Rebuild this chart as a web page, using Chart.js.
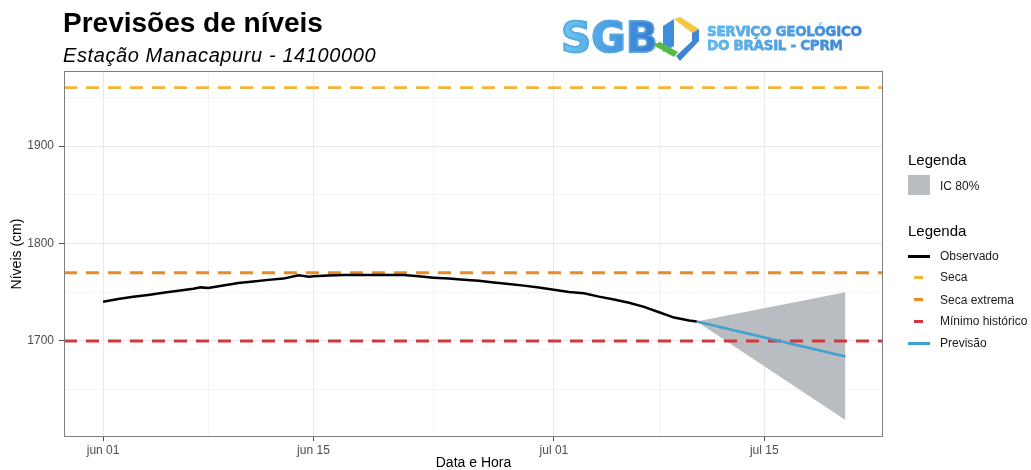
<!DOCTYPE html>
<html lang="pt-BR">
<head>
<meta charset="utf-8">
<title>Previsões de níveis</title>
<script src="https://cdn.jsdelivr.net/npm/chart.js@4.4.1/dist/chart.umd.min.js"></script>
<style>
  html, body { margin: 0; padding: 0; background: #fff; }
  #page { position: relative; width: 1031px; height: 470px; overflow: hidden; font-family: "Liberation Sans", Arial, sans-serif; color: #000; }
  #chart-box { position: absolute; left: 0; top: 0; width: 1031px; height: 470px; }
  .title { position: absolute; left: 63px; top: 9px; font-size: 28px; font-weight: bold; line-height: 28px; white-space: nowrap; }
  .subtitle { position: absolute; left: 63px; top: 45px; font-size: 20px; font-style: italic; line-height: 20px; letter-spacing: 0.6px; white-space: nowrap; }
  .sgb { position: absolute; left: 561px; top: 17px; font-family: "DejaVu Sans", sans-serif; font-weight: bold; font-size: 42px; line-height: 42px; letter-spacing: 0px;
         -webkit-text-stroke: 1.5px #55a8e4;
         background: linear-gradient(90deg, #6cc6ee 0%, #4a9fe2 50%, #3a78cc 100%); -webkit-background-clip: text; background-clip: text; color: transparent; }
  .hex { position: absolute; left: 653px; top: 16px; }
  .logo-text { position: absolute; left: 707px; top: 25px; font-family: "DejaVu Sans", sans-serif; font-size: 13.5px; font-weight: bold; line-height: 13.5px; white-space: nowrap; letter-spacing: -0.3px;
               -webkit-text-stroke: 0.4px #4f9fe2;
               background: linear-gradient(90deg, #62c0ee 0%, #4a98e0 60%, #3f7ccd 100%); -webkit-background-clip: text; background-clip: text; color: transparent; }
  .leg-title { position: absolute; left: 908px; font-size: 15px; line-height: 16px; color: #000; white-space: nowrap; }
  .leg-text { position: absolute; left: 940px; font-size: 12px; line-height: 14px; color: #1a1a1a; white-space: nowrap; }
  .leg-box { position: absolute; left: 908px; top: 175px; width: 22px; height: 20px; background: #b9bcc1; }
  .leg-line { position: absolute; height: 3px; }
</style>
</head>
<body>
<div id="page">
  <div id="chart-box"><canvas id="level-chart"></canvas></div>

  <div class="title">Previsões de níveis</div>
  <div class="subtitle">Estação Manacapuru - 14100000</div>

  <div class="sgb">SGB</div>
  <svg class="hex" width="48" height="46" viewBox="0 0 48 46">
    <polygon points="10,10 21,3 21,30 10,36" fill="#3d8fdc"/>
    <polygon points="21,3 27,1 46,13 39,17" fill="#f4c542"/>
    <polygon points="39,17 46,13 46,25 27,45 23,40 39,25" fill="#3f86d6"/>
    <polygon points="0,29 7,26 25,36 21,41" fill="#58b947"/>
  </svg>
  <div class="logo-text">SERVIÇO GEOLÓGICO<br>DO BRASIL - CPRM</div>

  <div class="leg-title" style="top:152px">Legenda</div>
  <div class="leg-box"></div>
  <div class="leg-text" style="top:179px">IC 80%</div>

  <div class="leg-title" style="top:223px">Legenda</div>
  <div class="leg-line" style="left:908px; width:22px; top:255px; background:#000;"></div>
  <div class="leg-text" style="top:249px">Observado</div>
  <div class="leg-line" style="left:914px; width:9px; top:276px; background:#f2b53b;"></div>
  <div class="leg-text" style="top:270px">Seca</div>
  <div class="leg-line" style="left:914px; width:9px; top:298px; background:#e8892a;"></div>
  <div class="leg-text" style="top:293px">Seca extrema</div>
  <div class="leg-line" style="left:914px; width:9px; top:320px; background:#d2373b;"></div>
  <div class="leg-text" style="top:314px">Mínimo histórico</div>
  <div class="leg-line" style="left:908px; width:22px; top:342px; background:#3fa2cf;"></div>
  <div class="leg-text" style="top:336px">Previsão</div>
</div>

<script>
// days counted from 1 June
const obsDays = [0, 1, 2, 3, 4, 5, 6, 6.5, 7, 8, 9, 10, 11, 12, 13, 13.7, 14, 15, 16, 18, 20,
  21, 22, 23, 24, 25, 26, 27, 28, 29, 30, 31, 32, 33, 34, 35, 36, 37, 38, 39, 39.5];
const obsLevels = [1740.3, 1743, 1745.3, 1747.3, 1749.6, 1751.5, 1753.5, 1755, 1754.3, 1757, 1759.5,
  1761, 1762.7, 1764, 1767.5, 1766, 1766.5, 1767.3, 1767.7, 1767.7, 1767.7,
  1766.3, 1765, 1764, 1762.8, 1761.8, 1760, 1758.5, 1756.8, 1754.8, 1752.5,
  1750.3, 1749, 1745.5, 1742.5, 1739.3, 1735, 1729.5, 1724, 1721, 1720];

const forecastDays = [39.5, 49.4];
const forecastLevels = [1720, 1684];
const ciUpperLevels = [1720, 1750];
const ciLowerLevels = [1720, 1619];

const secaLevel = 1960;
const secaExtremaLevel = 1770;
const minimoLevel = 1700;

const xRange = [-2.6, 51.9];
const yRange = [1601.5, 1977];
const xMajorDays = [0, 14, 30, 44];
const xTickLabels = ["jun 01", "jun 15", "jul 01", "jul 15"];
const xMinorDays = [7, 22, 37];
const yMajorTicks = [1700, 1800, 1900];
const yMinorTicks = [1650, 1750, 1850, 1950];

function toPoints(xs, ys) {
  return xs.map((x, i) => ({ x, y: ys[i] }));
}

function levelLine(level) {
  return [{ x: xRange[0], y: level }, { x: xRange[1], y: level }];
}

function isMajor(list, value) {
  return list.some((v) => Math.abs(v - value) < 1e-6);
}

const panelBorder = {
  id: "panelBorder",
  afterDatasetsDraw(chart) {
    const { ctx, chartArea: a } = chart;
    ctx.save();
    ctx.strokeStyle = "#7f7f7f";
    ctx.lineWidth = 1;
    ctx.strokeRect(a.left + 0.5, a.top + 0.5, a.right - a.left - 1, a.bottom - a.top - 1);
    ctx.restore();
  },
};

const gridColor = (majors) => (ctx) => (isMajor(majors, ctx.tick.value) ? "#e8e8e8" : "#f3f3f3");
const tickColor = (majors) => (ctx) => (isMajor(majors, ctx.tick.value) ? "#4d4d4d" : "rgba(0,0,0,0)");

new Chart(document.getElementById("level-chart"), {
  type: "line",
  data: {
    datasets: [
      {
        label: "Observado",
        data: toPoints(obsDays, obsLevels),
        borderColor: "#000",
        borderWidth: 2.5,
      },
      {
        label: "Previsão",
        data: toPoints(forecastDays, forecastLevels),
        borderColor: "#3fa2cf",
        borderWidth: 2.5,
      },
      {
        label: "Mínimo histórico",
        data: levelLine(minimoLevel),
        borderColor: "#d2373b",
        borderWidth: 2.8,
        borderDash: [13, 9],
      },
      {
        label: "Seca extrema",
        data: levelLine(secaExtremaLevel),
        borderColor: "#e8892a",
        borderWidth: 2.8,
        borderDash: [13, 9],
      },
      {
        label: "Seca",
        data: levelLine(secaLevel),
        borderColor: "#f2b53b",
        borderWidth: 2.8,
        borderDash: [13, 9],
      },
      {
        label: "IC sup",
        data: toPoints(forecastDays, ciUpperLevels),
        borderWidth: 0,
        borderColor: "rgba(0,0,0,0)",
      },
      {
        label: "IC 80%",
        data: toPoints(forecastDays, ciLowerLevels),
        borderWidth: 0,
        borderColor: "rgba(0,0,0,0)",
        backgroundColor: "#b9bcc1",
        fill: "-1",
      },
    ],
  },
  options: {
    responsive: true,
    maintainAspectRatio: false,
    animation: false,
    events: [],
    layout: { padding: { left: 0, top: 71, right: 148, bottom: 0 } },
    elements: {
      line: { tension: 0, fill: false },
      point: { radius: 0 },
    },
    plugins: {
      legend: { display: false },
      tooltip: { enabled: false },
      filler: { drawTime: "beforeDatasetsDraw" },
    },
    scales: {
      x: {
        type: "linear",
        min: xRange[0],
        max: xRange[1],
        afterBuildTicks(scale) {
          scale.ticks = [...xMajorDays, ...xMinorDays].sort((a, b) => a - b).map((value) => ({ value }));
        },
        afterFit(scale) {
          scale.height = 33;
        },
        ticks: {
          autoSkip: false,
          maxRotation: 0,
          minRotation: 0,
          padding: 2,
          color: "#4d4d4d",
          font: { family: "Liberation Sans", size: 12 },
          callback: (value) => {
            const i = xMajorDays.findIndex((d) => Math.abs(d - value) < 1e-6);
            return i >= 0 ? xTickLabels[i] : "";
          },
        },
        grid: {
          color: gridColor(xMajorDays),
          lineWidth: 1,
          tickLength: 4,
          tickColor: tickColor(xMajorDays),
        },
        border: { display: false },
        title: {
          display: true,
          text: "Data e Hora",
          color: "#000",
          font: { family: "Liberation Sans", size: 14, lineHeight: 1 },
          padding: { top: 0, bottom: 0 },
        },
      },
      y: {
        type: "linear",
        min: yRange[0],
        max: yRange[1],
        afterBuildTicks(scale) {
          scale.ticks = [...yMajorTicks, ...yMinorTicks].sort((a, b) => a - b).map((value) => ({ value }));
        },
        afterFit(scale) {
          scale.width = 64;
        },
        ticks: {
          autoSkip: false,
          padding: 5,
          color: "#4d4d4d",
          font: { family: "Liberation Sans", size: 12 },
          callback: (value) => (isMajor(yMajorTicks, value) ? String(value) : ""),
        },
        grid: {
          color: gridColor(yMajorTicks),
          lineWidth: 1,
          tickLength: 5,
          tickColor: tickColor(yMajorTicks),
        },
        border: { display: false },
        title: {
          display: true,
          text: "Níveis (cm)",
          color: "#000",
          font: { family: "Liberation Sans", size: 14 },
          padding: { top: 9, bottom: 0 },
        },
      },
    },
  },
  plugins: [panelBorder],
});
</script>
</body>
</html>
